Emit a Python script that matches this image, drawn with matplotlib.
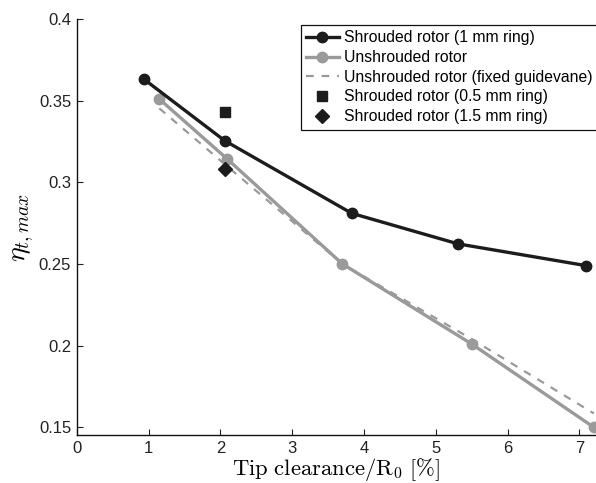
import matplotlib
matplotlib.use("Agg")
import matplotlib.pyplot as plt
from matplotlib.ticker import FuncFormatter

plt.rcParams["font.family"] = ["Liberation Sans", "DejaVu Sans"]
plt.rcParams["mathtext.fontset"] = "cm"

# Tip clearance (% of R0) and peak total efficiency
shrouded_1mm_x = [0.94, 2.06, 3.83, 5.31, 7.09]
shrouded_1mm_y = [0.363, 0.3255, 0.281, 0.2623, 0.249]

unshrouded_x = [1.15, 2.09, 3.70, 5.50, 7.20]
unshrouded_y = [0.351, 0.3145, 0.250, 0.201, 0.150]

fixed_gv_x = [1.15, 2.09, 3.70, 5.50, 7.20]
fixed_gv_y = [0.3453, 0.310, 0.250, 0.204, 0.1585]

shrouded_05mm_x = [2.06]
shrouded_05mm_y = [0.343]

shrouded_15mm_x = [2.06]
shrouded_15mm_y = [0.308]

x_ticks = [0, 1, 2, 3, 4, 5, 6, 7]
y_ticks = [0.15, 0.2, 0.25, 0.3, 0.35, 0.4]

black = "#1c1c1c"
grey = "#9a9a9a"

fig = plt.figure(figsize=(5.96, 4.83), dpi=100)
ax = fig.add_axes([0.1287, 0.0994, 1.0 - 0.1287, 0.9607 - 0.0994])

ax.plot(shrouded_1mm_x, shrouded_1mm_y, "-o", color=black, lw=2.4, ms=7.5,
        label="Shrouded rotor (1 mm ring)", zorder=4)
ax.plot(unshrouded_x, unshrouded_y, "-o", color=grey, lw=2.4, ms=7.5,
        label="Unshrouded rotor", zorder=3, clip_on=False)
ax.plot(fixed_gv_x, fixed_gv_y, "--", color=grey, lw=1.6, dashes=(3.5, 3.5),
        label="Unshrouded rotor (fixed guidevane)", zorder=2)
ax.plot(shrouded_05mm_x, shrouded_05mm_y, "s", color=black, ms=7,
        label="Shrouded rotor (0.5 mm ring)", zorder=5)
ax.plot(shrouded_15mm_x, shrouded_15mm_y, "D", color=black, ms=7,
        label="Shrouded rotor (1.5 mm ring)", zorder=5)

ax.set_xlim(0, 7.23)
ax.set_ylim(0.1453, 0.4)
ax.set_xticks(x_ticks)
ax.set_yticks(y_ticks)
ax.yaxis.set_major_formatter(FuncFormatter(lambda v, p: f"{v:g}"))
ax.tick_params(direction="in", length=4, width=0.8, labelsize=12,
               colors="#222222", pad=4)
for side in ("top", "right"):
    ax.spines[side].set_visible(False)
for side in ("left", "bottom"):
    ax.spines[side].set_linewidth(1.0)
    ax.spines[side].set_color("#111111")

ax.set_xlabel(r"$\mathrm{Tip\ clearance/R_0\ [\%]}$", fontsize=16.3, labelpad=0)
ax.set_ylabel(r"$\eta_{t,max}$", fontsize=20, labelpad=2)

leg = ax.legend(loc="upper left", bbox_to_anchor=(0.431, 0.986),
                borderaxespad=0, fontsize=11.3, handlelength=2.1,
                handletextpad=0.3, labelspacing=0.3, borderpad=0.35,
                fancybox=False, framealpha=1, edgecolor="#111111")
leg.get_frame().set_linewidth(0.9)

fig.savefig("out.png", dpi=100)
